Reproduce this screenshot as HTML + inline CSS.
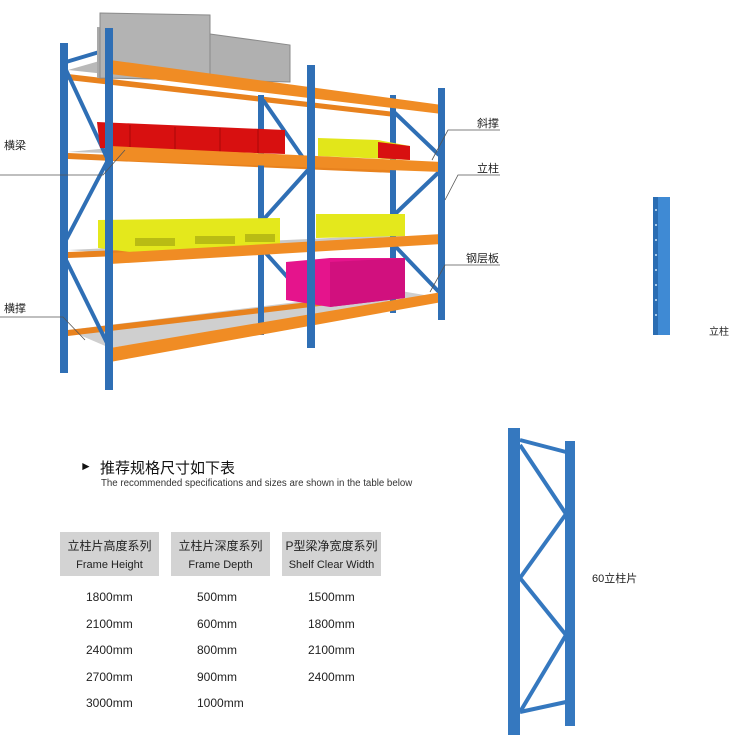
<!DOCTYPE html>
<html><head><meta charset="utf-8"><style>
html,body{margin:0;padding:0;background:#fff;}
body{width:750px;height:746px;position:relative;overflow:hidden;font-family:"Liberation Sans","Noto Sans CJK SC",sans-serif;}
.t{position:absolute;white-space:nowrap;color:#222;}
</style></head><body>
<svg width="750" height="746" style="position:absolute;left:0;top:0" xmlns="http://www.w3.org/2000/svg">
<g id="rack">
<polygon points="68,70 110,58 442,108 395,105" fill="#b9b9b9"/>
<polygon points="68,152 110,148 442,165 395,160" fill="#c4c4c4"/>
<polygon points="68,250 110,253 442,240 395,235" fill="#c9c9c9"/>
<polygon points="68,330 110,348 442,298 395,290" fill="#cfcfcf"/>
<polygon points="68,74 395,112 395,117 68,80" fill="#e8821e"/>
<polygon points="68,153 395,168 395,173 68,159" fill="#e8821e"/>
<polygon points="68,252 395,240 395,245 68,258" fill="#e8821e"/>
<polygon points="68,330 395,292 395,297 68,336" fill="#e8821e"/>
<rect x="60" y="43" width="8" height="330" fill="#2f6fb5"/>
<rect x="258" y="95" width="6" height="240" fill="#2f6fb5"/>
<rect x="390" y="95" width="6" height="218" fill="#2f6fb5"/>
<g stroke="#2f6fb5" stroke-width="4" fill="none">
<line x1="66" y1="70" x2="108" y2="160"/><line x1="108" y1="160" x2="66" y2="240"/><line x1="66" y1="260" x2="108" y2="345"/>
<line x1="66" y1="62" x2="106" y2="50"/>
<line x1="263" y1="100" x2="308" y2="165"/><line x1="308" y1="170" x2="263" y2="220"/><line x1="263" y1="250" x2="308" y2="300"/>
<line x1="394" y1="112" x2="439" y2="155"/><line x1="439" y1="172" x2="394" y2="215"/><line x1="394" y1="245" x2="439" y2="292"/>
</g>
<polygon points="97,27 210,32 210,80 97,78" fill="#a9a9a9"/>
<polygon points="100,13 210,15 210,80 100,78" fill="#b3b3b3" stroke="#8a8a8a"/>
<polygon points="210,34 290,45 290,82 210,80" fill="#b0b0b0" stroke="#8a8a8a"/>
<polygon points="97,122 285,130 285,154 100,148" fill="#d81010"/>
<g stroke="#a80808" stroke-width="1"><line x1="130" y1="125" x2="130" y2="150"/><line x1="175" y1="127" x2="175" y2="151"/><line x1="220" y1="128" x2="220" y2="152"/><line x1="258" y1="129" x2="258" y2="153"/></g>
<polygon points="318,138 378,140 410,146 410,160 318,156" fill="#e2e61a"/>
<polygon points="378,142 410,146 410,160 378,158" fill="#d81010"/>
<polygon points="98,220 280,218 280,245 130,252 98,248" fill="#e4e81c"/>
<g fill="#b9bc14"><rect x="135" y="238" width="40" height="8"/><rect x="195" y="236" width="40" height="8"/><rect x="245" y="234" width="30" height="8"/><rect x="345" y="228" width="30" height="8"/></g>
<polygon points="316,214 405,214 405,236 316,238" fill="#e4e81c"/>
<polygon points="286,262 330,258 405,258 405,298 330,307 286,300" fill="#e5148c"/>
<polygon points="330,262 405,258 405,298 330,307" fill="#d1107e"/>
<polygon points="110,60 442,105 442,114 110,74" fill="#f08c24"/>
<polygon points="110,146 442,162 442,172 110,160" fill="#f08c24"/>
<polygon points="110,253 442,234 442,244 110,264" fill="#f08c24"/>
<polygon points="110,348 442,292 442,302 110,362" fill="#f08c24"/>
<rect x="105" y="28" width="8" height="362" fill="#2f6fb5"/>
<rect x="307" y="65" width="8" height="283" fill="#2f6fb5"/>
<rect x="438" y="88" width="7" height="232" fill="#2f6fb5"/>
</g>
<g stroke="#555" stroke-width="0.8" fill="none">
<polyline points="0,175 103,175 125,150"/>
<polyline points="0,317 63,317 85,340"/>
<polyline points="500,130 448,130 432,160"/>
<polyline points="500,175 458,175 445,200"/>
<polyline points="500,265 445,265 430,292"/>
</g>
<rect x="653" y="197" width="17" height="138" fill="#3f8ad4"/>
<rect x="653" y="197" width="5" height="138" fill="#2a6db3"/>
<g fill="#cfe4f7"><circle cx="656" cy="210" r="1"/><circle cx="656" cy="225" r="1"/><circle cx="656" cy="240" r="1"/><circle cx="656" cy="255" r="1"/><circle cx="656" cy="270" r="1"/><circle cx="656" cy="285" r="1"/><circle cx="656" cy="300" r="1"/><circle cx="656" cy="315" r="1"/></g>
<g fill="#3578bf">
<rect x="508" y="428" width="12" height="307"/>
<rect x="565" y="441" width="10" height="285"/>
</g>
<g stroke="#3578bf" stroke-width="4" fill="none">
<line x1="520" y1="440" x2="566" y2="452"/>
<line x1="520" y1="445" x2="566" y2="514"/>
<line x1="566" y1="514" x2="520" y2="578"/>
<line x1="520" y1="578" x2="566" y2="635"/>
<line x1="566" y1="635" x2="520" y2="712"/>
<line x1="520" y1="712" x2="566" y2="702"/>
</g>
<rect x="60" y="532" width="99" height="44" fill="#d3d3d3"/>
<rect x="171" y="532" width="99" height="44" fill="#d3d3d3"/>
<rect x="282" y="532" width="99" height="44" fill="#d3d3d3"/>
</svg>
<div class="t" style="left:4px;top:137px;font-size:11px">横梁</div>
<div class="t" style="left:4px;top:300px;font-size:11px">横撑</div>
<div class="t" style="left:477px;top:115px;font-size:11px">斜撑</div>
<div class="t" style="left:477px;top:160px;font-size:11px">立柱</div>
<div class="t" style="left:466px;top:250px;font-size:11px">钢层板</div>
<div class="t" style="left:709px;top:323px;font-size:10px">立柱</div>
<div class="t" style="left:592px;top:570px;font-size:11px">60立柱片</div>
<div class="t" style="left:80px;top:459px;font-size:12px;color:#111">►</div>
<div class="t" style="left:100px;top:457px;font-size:15px;color:#111">推荐规格尺寸如下表</div>
<div class="t" style="left:101px;top:478px;font-size:9.7px;color:#333">The recommended specifications and sizes are shown in the table below</div>
<div class="t" style="left:60px;width:99px;text-align:center;top:537px;font-size:12px;line-height:18px;color:#222">立柱片高度系列<br><span style="font-size:11px">Frame Height</span></div>
<div class="t" style="left:171px;width:99px;text-align:center;top:537px;font-size:12px;line-height:18px;color:#222">立柱片深度系列<br><span style="font-size:11px">Frame Depth</span></div>
<div class="t" style="left:282px;width:99px;text-align:center;top:537px;font-size:12px;line-height:18px;color:#222">P型梁净宽度系列<br><span style="font-size:11px">Shelf Clear Width</span></div>
<div class="t" style="left:86px;top:584px;font-size:12px;line-height:26.5px">1800mm<br>2100mm<br>2400mm<br>2700mm<br>3000mm</div>
<div class="t" style="left:197px;top:584px;font-size:12px;line-height:26.5px">500mm<br>600mm<br>800mm<br>900mm<br>1000mm</div>
<div class="t" style="left:308px;top:584px;font-size:12px;line-height:26.5px">1500mm<br>1800mm<br>2100mm<br>2400mm</div>
</body></html>
